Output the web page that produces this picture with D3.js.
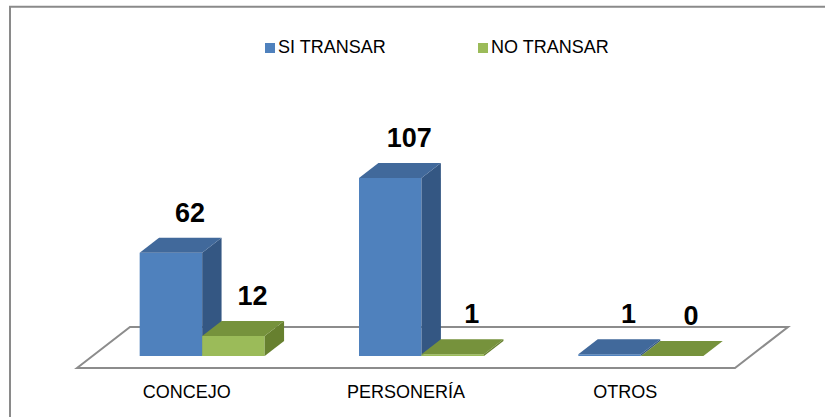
<!DOCTYPE html>
<html>
<head>
<meta charset="utf-8">
<script src="https://cdn.jsdelivr.net/npm/d3@7"></script>
<style>
  body { margin: 0; background: #fff; }
  svg { display: block; font-family: Arial, "Liberation Sans", sans-serif; }
</style>
</head>
<body>
<div id="chart"></div>
<script>
const categories = ["CONCEJO", "PERSONERÍA", "OTROS"];
const seriesNames = ["SI TRANSAR", "NO TRANSAR"];
const siTransar = [62, 107, 1];
const noTransar = [12, 1, 0];

const width = 825;
const height = 417;

// floor geometry (front edge + depth)
const floorY = 368;
const floorDepth = 41;          // vertical px
const slant = 53 / 41;          // horizontal px per vertical depth px
const barFrontZ = 12;
const barBackZ = 27;

const colors = {
    "SI TRANSAR": { front: "#4f81bd", side: "#345783", top: "#41699b" },
    "NO TRANSAR": { front: "#9bbb59", side: "#67802f", top: "#76923c" }
};

const svg = d3.select("#chart")
    .append("svg")
    .attr("width", width)
    .attr("height", height);

// chart frame (top and left edges only visible)
svg.append("path")
    .attr("d", "M10,417 L10,6.7 L825,6.7")
    .attr("fill", "none")
    .attr("stroke", "#8a8a8a")
    .attr("stroke-width", 2);

const x0 = d3.scaleBand()
    .domain(categories)
    .range([77, 735])
    .paddingInner(0.43)
    .paddingOuter(0.215);

const x1 = d3.scaleBand()
    .domain(seriesNames)
    .range([0, x0.bandwidth()]);

const y = d3.scaleLinear()
    .domain([0, 107])
    .range([0, 178]);

function proj(x, h, z) {
    return [x + z * slant, floorY - z - h];
}

// floor
const floorPts = [proj(77, 0, 0), proj(77, 0, floorDepth), proj(735, 0, floorDepth), proj(735, 0, 0)];
svg.append("polygon")
    .attr("points", floorPts.map(p => p.join(",")).join(" "))
    .attr("fill", "#fff")
    .attr("stroke", "#8c8c8c")
    .attr("stroke-width", 2);

const bars = [];
categories.forEach((c, i) => {
    bars.push({ cat: c, series: seriesNames[0], value: siTransar[i] });
    bars.push({ cat: c, series: seriesNames[1], value: noTransar[i] });
});

const pts = a => a.map(p => p.join(",")).join(" ");

const g = svg.selectAll(".bar")
    .data(bars)
    .enter()
    .append("g")
    .attr("class", "bar");

g.each(function (d) {
    const sel = d3.select(this);
    const xl = x0(d.cat) + x1(d.series);
    const xr = xl + x1.bandwidth();
    const h = y(d.value);
    const col = colors[d.series];
    // front
    sel.append("polygon")
        .attr("points", pts([proj(xl, 0, barFrontZ), proj(xl, h, barFrontZ), proj(xr, h, barFrontZ), proj(xr, 0, barFrontZ)]))
        .attr("fill", col.front);
    // side
    sel.append("polygon")
        .attr("points", pts([proj(xr, 0, barFrontZ), proj(xr, h, barFrontZ), proj(xr, h, barBackZ), proj(xr, 0, barBackZ)]))
        .attr("fill", col.side);
    // top
    sel.append("polygon")
        .attr("points", pts([proj(xl, h, barFrontZ), proj(xl, h, barBackZ), proj(xr, h, barBackZ), proj(xr, h, barFrontZ)]))
        .attr("fill", col.top);
});

// value labels
svg.selectAll(".val")
    .data(bars)
    .enter()
    .append("text")
    .attr("class", "val")
    .attr("x", d => x0(d.cat) + x1(d.series) + x1.bandwidth() / 2 + 19 + barFrontZ * slant)
    .attr("y", d => floorY - barBackZ - y(d.value) - 16)
    .attr("text-anchor", "middle")
    .attr("font-size", "27px")
    .attr("font-weight", "bold")
    .attr("fill", "#000")
    .text(d => d.value);

// category labels
svg.selectAll(".cat")
    .data(categories)
    .enter()
    .append("text")
    .attr("class", "cat")
    .attr("x", d => x0(d) + x0.bandwidth() / 2)
    .attr("y", 398)
    .attr("text-anchor", "middle")
    .attr("font-size", "18px")
    .attr("fill", "#000")
    .text(d => d);

// legend
const legendX = [265, 478];
const legend = svg.selectAll(".legend")
    .data(seriesNames)
    .enter()
    .append("g")
    .attr("class", "legend")
    .attr("transform", (d, i) => "translate(" + legendX[i] + ",43)");

legend.append("rect")
    .attr("width", 10)
    .attr("height", 10)
    .attr("fill", d => colors[d].front);

legend.append("text")
    .attr("x", 13)
    .attr("y", 9.5)
    .attr("font-size", "18px")
    .attr("fill", "#000")
    .text(d => d);
</script>
</body>
</html>
